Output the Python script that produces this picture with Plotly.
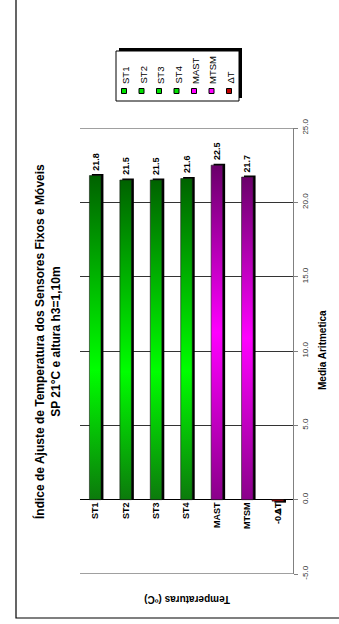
import plotly.graph_objects as go

# ---- data ----
categories = ["ST1", "ST2", "ST3", "ST4", "MAST", "MTSM", "ΔT"]
values = [21.8, 21.5, 21.5, 21.6, 22.5, 21.7, -0.1]
families = ["green", "green", "green", "green", "magenta", "magenta", "red"]
y_ticks = [-5, 0, 5, 10, 15, 20, 25]

title_lines = ["Índice de Ajuste de Temperatura dos Sensores Fixos e Móveis",
               "SP 21°C e altura h3=1,10m"]
value_axis_title = "Media Aritmetica"
category_axis_title = "Temperaturas (ºC)"

# ---- styling ----
FONT = "Arial, Liberation Sans, sans-serif"
W, H = 339, 624
L, R, T, B = 80, 46, 128, 50
PW, PH = W - L - R, H - T - B
Y_MIN, Y_MAX = -5, 25

gradients = {
    "green": [[0, "#0c7a0c"], [0.4, "#00ff00"], [1, "#006200"]],
    "magenta": [[0, "#8a008a"], [0.5, "#ff00ff"], [1, "#6a006a"]],
    "red": [[0, "#990000"], [1, "#cc0000"]],
}
legend_colors = {"green": "#00e000", "magenta": "#ff00ff", "red": "#c00000"}

BAR_HALF = 0.19          # half bar width in category units
DEPTH_X = 0.08           # 3D side depth (category units)
DEPTH_Y = 0.1            # 3D top depth (value units)


def px_x(p):
    return (p - L) / PW


def px_y(p):
    return (T + PH - p) / PH


fig = go.Figure()

for i, (v, fam) in enumerate(zip(values, families)):
    x0, x1 = i - BAR_HALF, i + BAR_HALF
    # dark depth face behind the bar
    top = v + DEPTH_Y if v >= 0 else v - DEPTH_Y
    fig.add_trace(go.Scatter(
        x=[x0 + DEPTH_X, x0 + DEPTH_X, x1 + DEPTH_X, x1 + DEPTH_X, x0 + DEPTH_X],
        y=[0, top, top, 0, 0],
        fill="toself", fillcolor="#000000", mode="lines",
        line=dict(width=0, color="#000000"), hoverinfo="skip", showlegend=False))
    # shaded bar
    fig.add_trace(go.Scatter(
        x=[x0, x0, x1, x1, x0],
        y=[0, v, v, 0, 0],
        fill="toself", mode="lines",
        fillgradient=dict(type="vertical", colorscale=gradients[fam],
                          start=0, stop=v),
        line=dict(width=0.6, color="#1a1a1a"),
        name=categories[i], showlegend=False))

# value labels
for i, v in enumerate(values):
    fig.add_annotation(
        x=i, y=v, xref="x", yref="y", text=f"{v:.1f}", showarrow=False,
        textangle=-90, font=dict(family=FONT, size=9, color="#000", weight="bold"),
        xanchor="center", yanchor="bottom" if v >= 0 else "top",
        yshift=3 if v >= 0 else -5)

# axis border lines at the ends of the value range
for yv in (Y_MIN, Y_MAX):
    fig.add_shape(type="line", xref="paper", yref="y", x0=0, x1=1, y0=yv, y1=yv,
                  line=dict(color="#808080", width=1.3))

# outer chart frame
fig.add_shape(type="rect", xref="paper", yref="paper",
              x0=px_x(16), x1=px_x(360), y0=px_y(618), y1=px_y(-10),
              line=dict(color="#000000", width=1.2), layer="below")

# legend box with drop shadow
fig.add_shape(type="rect", xref="paper", yref="paper",
              x0=px_x(119), x1=px_x(242), y0=px_y(98), y1=px_y(48),
              line=dict(width=0), fillcolor="#000000")
fig.add_shape(type="rect", xref="paper", yref="paper",
              x0=px_x(116), x1=px_x(239), y0=px_y(101), y1=px_y(51),
              line=dict(color="#000000", width=1), fillcolor="#ffffff")
for k, (name, fam) in enumerate(zip(categories, families)):
    cx = 124 + 17.5 * k
    fig.add_shape(type="rect", xref="paper", yref="paper",
                  x0=px_x(cx - 2.5), x1=px_x(cx + 2.5), y0=px_y(93.5), y1=px_y(88.5),
                  line=dict(color="#000000", width=1), fillcolor=legend_colors[fam])
    fig.add_annotation(
        x=px_x(cx + 1.5), y=px_y(86), xref="paper", yref="paper", text=name,
        showarrow=False, textangle=-90, xanchor="center", yanchor="bottom",
        font=dict(family=FONT, size=9.5, color="#000"))

# titles
fig.add_annotation(
    x=px_x(47), y=px_y(342), xref="paper", yref="paper",
    text="<b>" + "<br>".join(title_lines) + "</b>", showarrow=False,
    textangle=-90, xanchor="center", yanchor="middle",
    font=dict(family=FONT, size=12, color="#000"))
fig.add_annotation(
    x=px_x(322), y=px_y(350), xref="paper", yref="paper",
    text=f"<b>{value_axis_title}</b>", showarrow=False, textangle=-90,
    xanchor="center", yanchor="middle", font=dict(family=FONT, size=10, color="#000"))
fig.add_annotation(
    x=px_x(187), y=px_y(600), xref="paper", yref="paper",
    text=f"<b>{category_axis_title}</b>", showarrow=False, textangle=180,
    xanchor="center", yanchor="middle", font=dict(family=FONT, size=10, color="#000"))

fig.update_layout(
    width=W, height=H,
    margin=dict(l=L, r=R, t=T, b=B, pad=0),
    paper_bgcolor="#ffffff", plot_bgcolor="#ffffff",
    showlegend=False,
    font=dict(family=FONT, color="#000"),
    xaxis=dict(
        range=[-0.5, len(categories) - 0.5], tickmode="array",
        tickvals=list(range(len(categories))), ticktext=categories,
        tickangle=-90, tickfont=dict(family=FONT, size=9, color="#000", weight="bold"),
        showgrid=False, zeroline=False, showline=False, ticks="",
        anchor="free", position=(0 - Y_MIN) / (Y_MAX - Y_MIN),
        fixedrange=True),
    yaxis=dict(
        range=[Y_MIN, Y_MAX], tickmode="array", tickvals=y_ticks,
        ticktext=[f"{t:.1f}" for t in y_ticks], side="right",
        tickangle=-90, tickfont=dict(family=FONT, size=8, color="#333"),
        showgrid=True, gridcolor="#333333", gridwidth=1,
        zeroline=True, zerolinecolor="#000000", zerolinewidth=1.3,
        showline=True, linecolor="#808080", linewidth=1.3,
        ticks="outside", ticklen=4, tickcolor="#808080",
        fixedrange=True),
)

fig.write_html("out.html")
